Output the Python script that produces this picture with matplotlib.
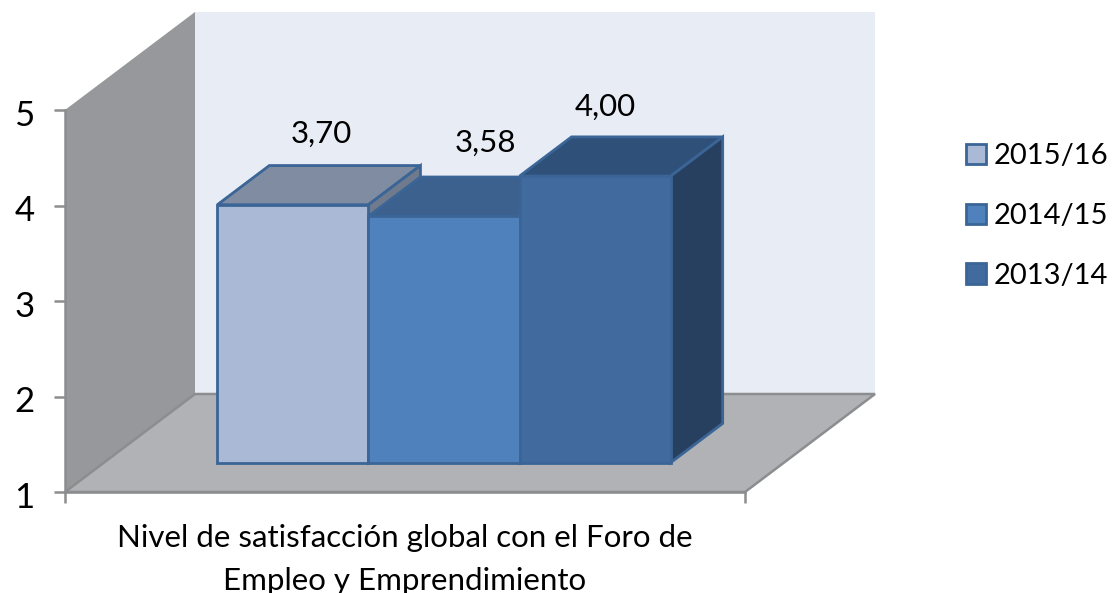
import matplotlib
matplotlib.use("Agg")
import matplotlib.pyplot as plt
from matplotlib.patches import Polygon, Patch
from matplotlib.transforms import ScaledTranslation

seasons = ["2015/16", "2014/15", "2013/14"]
values = [3.70, 3.58, 4.00]
value_labels = ["3,70", "3,58", "4,00"]
category = "Nivel de satisfacción global con el Foro de\nEmpleo y Emprendimiento"
y_ticks = [1, 2, 3, 4, 5]

# colours per bar: front, top, side
front_cols = ["#AAB9D6", "#4F81BD", "#416B9E"]
top_cols = ["#808CA2", "#3C618F", "#2F5078"]
side_cols = ["#6F7A8D", "#345480", "#284060"]
edge_col = "#3A6596"
grey = "#8C8D8F"

plt.rcParams["font.family"] = ["Lato", "DejaVu Sans"]
W, H = 1113, 593
fig = plt.figure(figsize=(W / 100, H / 100), dpi=100)
# axes box = front plane of the fake 3d chart
ax = fig.add_axes([65 / W, (H - 492) / H, 680 / W, 382 / H])
ax.set_xlim(0, 4.5)
ax.set_ylim(1, 5)
ax.patch.set_visible(False)

# oblique offset of the full depth, in data units
dx = 130 / 680 * 4.5
dy = 98 / 382 * 4


def proj(x, v, z):
    return (x + z * dx, v + z * dy)


def face(pts, fc, ec, lw=2.0, zorder=2):
    ax.add_patch(Polygon([proj(*p) for p in pts], closed=True, fc=fc, ec=ec, lw=lw,
                         joinstyle="miter", clip_on=False, zorder=zorder))


# walls and floor
face([(0, 1, 1), (4.5, 1, 1), (4.5, 5, 1), (0, 5, 1)], "#E8ECF5", "none", 0, 1)
face([(0, 1, 0), (0, 1, 1), (0, 5, 1), (0, 5, 0)], "#97989B", "none", 0, 1)
face([(0, 1, 0), (4.5, 1, 0), (4.5, 1, 1), (0, 1, 1)], "#B0B2B5", grey, 1.8, 1)

# bars, left to right so each one hides the side of the previous
z0, z1 = 0.30, 0.70
for i, v in enumerate(values):
    x0, x1 = 0.75 + i, 1.75 + i
    z = 3 + i
    face([(x0, v, z0), (x1, v, z0), (x1, v, z1), (x0, v, z1)], top_cols[i], edge_col, zorder=z)
    face([(x1, 1, z0), (x1, 1, z1), (x1, v, z1), (x1, v, z0)], side_cols[i], edge_col, zorder=z)
    face([(x0, 1, z0), (x1, 1, z0), (x1, v, z0), (x0, v, z0)], front_cols[i], edge_col, zorder=z)

# data labels, pixel offset from the front top centre of each bar
offsets = [(28, 71), (41, 73), (10, 69)]
for i, v in enumerate(values):
    ax.annotate(value_labels[i], proj(1.25 + i, v, z0), xytext=(offsets[i][0] * 0.72, offsets[i][1] * 0.72),
                textcoords="offset points", ha="center", va="center", fontsize=22.5,
                color="black", zorder=10, annotation_clip=False)

for s in ["top", "right"]:
    ax.spines[s].set_visible(False)
for s in ["left", "bottom"]:
    ax.spines[s].set_color(grey)
    ax.spines[s].set_linewidth(1.8)
ax.set_yticks(y_ticks)
ax.set_xticks([0, 4.5])
ax.set_xticklabels(["", ""])
ax.tick_params(axis="y", length=8, width=1.8, color=grey, labelsize=25, pad=14)
ax.tick_params(axis="x", length=8, width=1.8, color=grey)
# numbers sit a little below their tick in the original
for lab in ax.get_yticklabels():
    lab.set_transform(lab.get_transform() + ScaledTranslation(0, -2 / 72, fig.dpi_scale_trans))

ax.annotate(category, (2.25, 1), xytext=(0, -23), textcoords="offset points", ha="center", va="top",
            fontsize=22.5, linespacing=1.64, annotation_clip=False)

handles = [Patch(fc=front_cols[i], ec=edge_col, lw=2.0, label=seasons[i]) for i in range(3)]
fig.legend(handles=handles, loc="center left", bbox_to_anchor=(960 / W, 1 - 216 / H), frameon=False,
           fontsize=21, handlelength=0.7, handleheight=0.7, handletextpad=0.25, labelspacing=1.15,
           borderpad=0.2, borderaxespad=0)

fig.savefig("out.png", dpi=100)
